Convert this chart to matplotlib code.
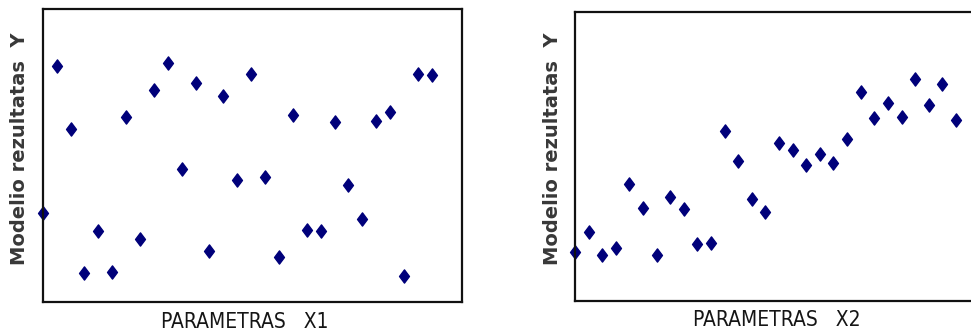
import matplotlib.pyplot as plt
from matplotlib.path import Path

# model output Y against parameter X1 (no clear dependence)
y_x1 = [30.4, 80.6, 59.0, 9.9, 24.2, 10.3, 63.3, 21.4, 72.4, 81.7,
        45.3, 74.8, 17.4, 70.3, 41.6, 77.8, 42.7, 15.3, 63.9, 24.5,
        24.1, 61.4, 39.8, 28.3, 62.0, 64.9, 8.8, 77.8, 77.6]

# model output Y against parameter X2 (rising trend)
y_x2 = [16.7, 23.7, 15.7, 18.2, 40.3, 32.1, 15.9, 35.9, 31.7, 19.5,
        20.1, 58.8, 48.2, 35.2, 30.7, 54.7, 52.1, 47.1, 50.8, 47.5,
        56.0, 72.3, 63.2, 68.3, 63.6, 76.6, 67.7, 74.9, 62.5]

ylabel = "Modelio rezultatas  Y"
xlabels = ["PARAMETRAS   X1", "PARAMETRAS   X2"]

# slightly narrow diamond
diamond = Path([(0, 1), (0.75, 0), (0, -1), (-0.75, 0), (0, 1)],
               [Path.MOVETO, Path.LINETO, Path.LINETO, Path.LINETO, Path.CLOSEPOLY])

fig = plt.figure(figsize=(9.71, 3.34), dpi=100)

ax1 = fig.add_axes([0.044, 0.0967, 0.4315, 0.875])
ax2 = fig.add_axes([0.5922, 0.0997, 0.4175, 0.8656])

panels = [(ax1, y_x1, 30.15, 0.483, 0.0205), (ax2, y_x2, 29.8, 0.498, 0.5695)]

for ax, ys, xmax, xlab_pos, ylab_x in panels:
    xs = list(range(len(ys)))
    ax.plot(xs, ys, linestyle='none', marker=diamond, markersize=9.5,
            color='#00007a', clip_on=False)
    ax.set_xlim(0, xmax)
    ax.set_ylim(0, 100)
    ax.set_xticks([])
    ax.set_yticks([])
    for s in ax.spines.values():
        s.set_linewidth(1.6)
        s.set_color('#111111')

for i, (ax, ys, xmax, xlab_pos, ylab_x) in enumerate(panels):
    ax.text(xlab_pos, -0.068, xlabels[i], transform=ax.transAxes,
            ha='center', va='center', fontsize=15, color='#151515',
            family='DejaVu Sans', fontstretch='condensed')
    fig.text(ylab_x, 0.556, ylabel, rotation=90, ha='center', va='center',
             fontsize=14, color='#383838', fontweight='bold',
             family='DejaVu Sans')

fig.savefig('out.png', dpi=100)
